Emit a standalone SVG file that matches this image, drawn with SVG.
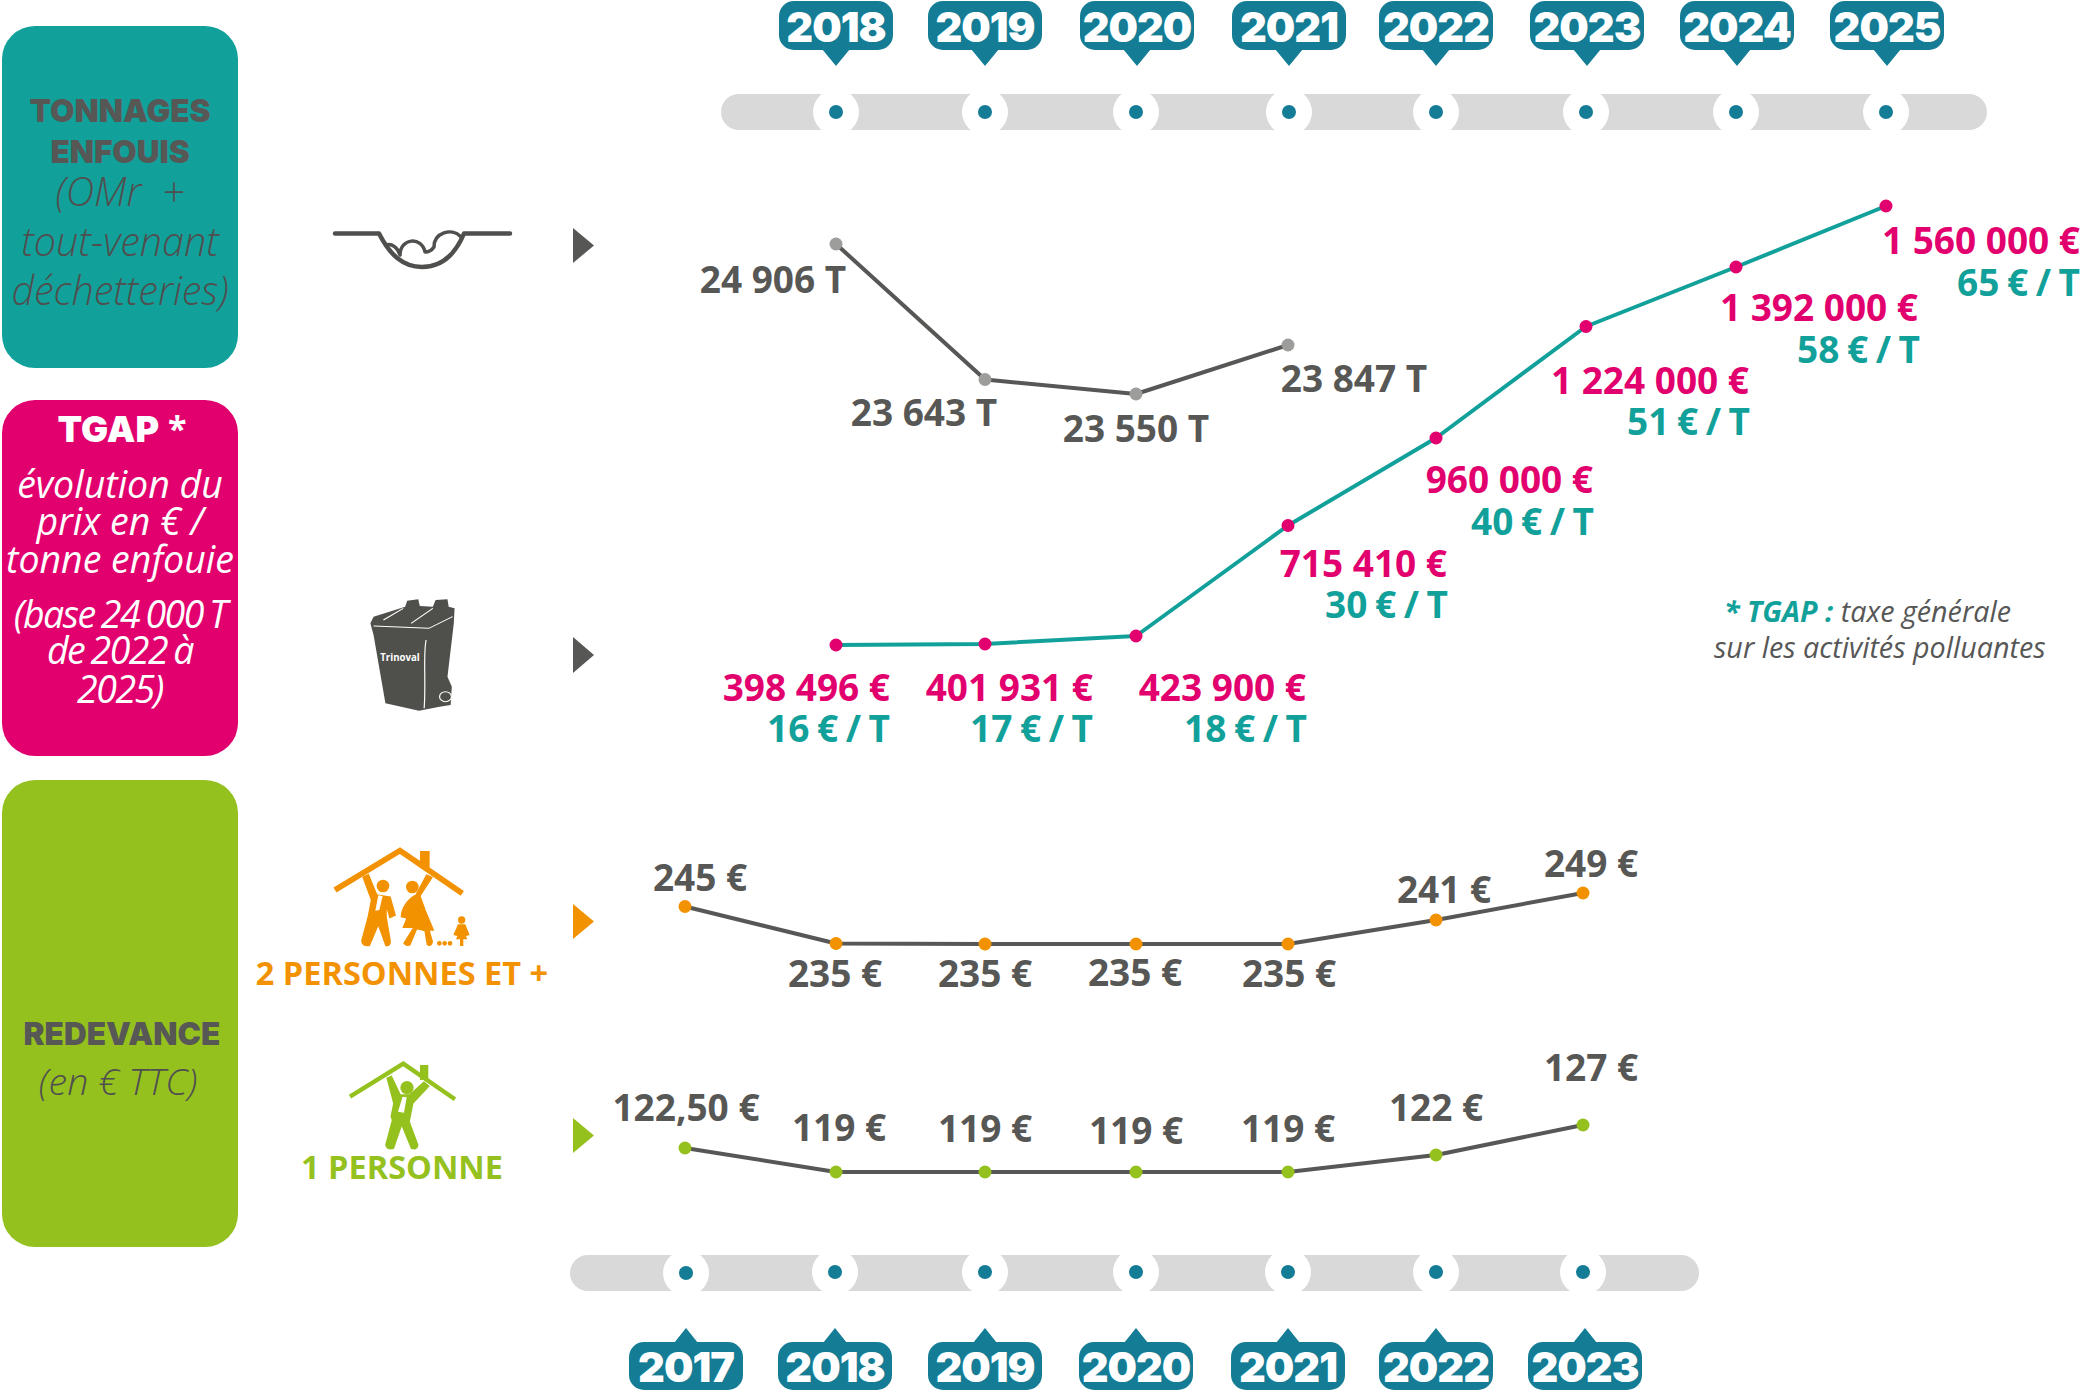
<svg xmlns="http://www.w3.org/2000/svg" width="2081" height="1395" viewBox="0 0 2081 1395">
<style>
text{font-family:"Open Sans","Liberation Sans",sans-serif}
.v{font-size:37px;font-weight:700;fill:#575756;text-anchor:middle}
.p{font-size:37px;font-weight:700;fill:#e2006e;text-anchor:end}
.t{font-size:37px;font-weight:700;fill:#12a19a;text-anchor:end;word-spacing:-2px}
.y{font-family:Inter,"Liberation Sans",sans-serif;font-size:41.500px;font-weight:900;fill:#fff;text-anchor:middle;letter-spacing:-1px}
.h{font-family:Inter,"Liberation Sans",sans-serif;font-size:31.500px;font-weight:900;text-anchor:middle}
.i{font-size:37.500px;font-style:italic;text-anchor:middle;white-space:pre}
.g{font-size:39.500px;font-weight:300;fill:#4f4f4f}
.n{letter-spacing:-1.500px;word-spacing:-2px}
.bar{fill:#d9d9d9}.hole{fill:#fff}.dot{fill:#147d95}.bub{fill:#147d95}
.ln{fill:none;stroke-width:4;stroke-linejoin:round}
.lab{font-size:32.500px;font-weight:700;text-anchor:middle}
</style>
<defs>
<g id="bu"><rect x="-57" y="-65" width="114" height="49" rx="15" class="bub"/><path d="M-14,-17H14L0,0Z" class="bub"/></g>
<g id="bd"><rect x="-57" y="14" width="114" height="48" rx="15" class="bub"/><path d="M-12,15H12L0,0Z" class="bub"/></g>
</defs>

<g id="timeline-top">
<rect class="bar" x="721" y="94" width="1266" height="36" rx="18"/>
<g id="tick-top">
<circle class="hole" cx="836" cy="112" r="23"/><circle class="dot" cx="836" cy="112" r="7"/>
<circle class="hole" cx="985" cy="112" r="23"/><circle class="dot" cx="985" cy="112" r="7"/>
<circle class="hole" cx="1136" cy="112" r="23"/><circle class="dot" cx="1136" cy="112" r="7"/>
<circle class="hole" cx="1289" cy="112" r="23"/><circle class="dot" cx="1289" cy="112" r="7"/>
<circle class="hole" cx="1436" cy="112" r="23"/><circle class="dot" cx="1436" cy="112" r="7"/>
<circle class="hole" cx="1586" cy="112" r="23"/><circle class="dot" cx="1586" cy="112" r="7"/>
<circle class="hole" cx="1736" cy="112" r="23"/><circle class="dot" cx="1736" cy="112" r="7"/>
<circle class="hole" cx="1886" cy="112" r="23"/><circle class="dot" cx="1886" cy="112" r="7"/>
</g>
<g id="y18t"><use href="#bu" x="836" y="66"/><text class="y" x="836" y="42">2018</text></g>
<g id="y19t"><use href="#bu" x="985" y="66"/><text class="y" x="985" y="42">2019</text></g>
<g id="y20t"><use href="#bu" x="1137" y="66"/><text class="y" x="1137" y="42">2020</text></g>
<g id="y21t"><use href="#bu" x="1289" y="66"/><text class="y" x="1289" y="42">2021</text></g>
<g id="y22t"><use href="#bu" x="1436" y="66"/><text class="y" x="1436" y="42">2022</text></g>
<g id="y23t"><use href="#bu" x="1587" y="66"/><text class="y" x="1587" y="42">2023</text></g>
<g id="y24t"><use href="#bu" x="1737" y="66"/><text class="y" x="1737" y="42">2024</text></g>
<g id="y25t"><use href="#bu" x="1887" y="66"/><text class="y" x="1887" y="42">2025</text></g>
</g>

<g id="timeline-bottom">
<rect class="bar" x="570" y="1255" width="1129" height="36" rx="18"/>
<circle class="hole" cx="686" cy="1273" r="23"/><circle class="dot" cx="686" cy="1273" r="7"/>
<circle class="hole" cx="835" cy="1272" r="23"/><circle class="dot" cx="835" cy="1272" r="7"/>
<circle class="hole" cx="985" cy="1272" r="23"/><circle class="dot" cx="985" cy="1272" r="7"/>
<circle class="hole" cx="1136" cy="1272" r="23"/><circle class="dot" cx="1136" cy="1272" r="7"/>
<circle class="hole" cx="1288" cy="1272" r="23"/><circle class="dot" cx="1288" cy="1272" r="7"/>
<circle class="hole" cx="1436" cy="1272" r="23"/><circle class="dot" cx="1436" cy="1272" r="7"/>
<circle class="hole" cx="1583" cy="1272" r="23"/><circle class="dot" cx="1583" cy="1272" r="7"/>
<g id="y17b"><use href="#bd" x="686" y="1328"/><text class="y" x="686" y="1382">2017</text></g>
<g id="y18b"><use href="#bd" x="835" y="1328"/><text class="y" x="835" y="1382">2018</text></g>
<g id="y19b"><use href="#bd" x="985" y="1328"/><text class="y" x="985" y="1382">2019</text></g>
<g id="y20b"><use href="#bd" x="1136" y="1328"/><text class="y" x="1136" y="1382">2020</text></g>
<g id="y21b"><use href="#bd" x="1288" y="1328"/><text class="y" x="1288" y="1382">2021</text></g>
<g id="y22b"><use href="#bd" x="1436" y="1328"/><text class="y" x="1436" y="1382">2022</text></g>
<g id="y23b"><use href="#bd" x="1585" y="1328"/><text class="y" x="1585" y="1382">2023</text></g>
</g>

<g id="box-tonnages">
<rect x="2" y="26" width="236" height="342" rx="33" fill="#12a19a"/>
<text class="h" x="120" y="122" fill="#575756">TONNAGES</text>
<text class="h" x="120" y="163" fill="#575756">ENFOUIS</text>
<text x="120" y="206" class="i g">(OMr  +</text><text x="120" y="256" class="i g">tout-venant</text><text x="120" y="305" class="i g">déchetteries)</text>
</g>
<g id="box-tgap">
<rect x="2" y="400" width="236" height="356" rx="33" fill="#e2006e"/>
<text x="122" y="442" class="h" fill="#fff" style="font-size:36px">TGAP<tspan font-family="Open Sans" font-size="34" font-weight="700" dy="-1"> *</tspan></text>
<text class="i" x="120" y="498" fill="#fff">évolution du</text>
<text class="i" x="120" y="535" fill="#fff">prix en € /</text>
<text class="i" x="120" y="573" fill="#fff">tonne enfouie</text>
<text class="i n" x="120" y="628" fill="#fff">(base 24 000 T</text>
<text class="i n" x="120" y="664" fill="#fff">de 2022 à</text>
<text class="i n" x="120" y="703" fill="#fff">2025)</text>
</g>
<g id="box-redevance">
<rect x="2" y="780" width="236" height="467" rx="33" fill="#95c11f"/>
<text class="h" x="122" y="1045" fill="#575756">REDEVANCE</text>
<text class="i g" x="118" y="1095" style="font-size:37.500px">(en € TTC)</text>
</g>

<g id="icon-landfill" fill="none" stroke="#4f4f4d" stroke-width="4.500" stroke-linecap="round" stroke-linejoin="round">
<path d="M335,233.500H379C390,255 403,267 422,267C441,267 455,255 464,233.500H510"/>
<path d="M386,245C392,243 398,248 400,255M400,255C400,238 422,236 425,252C428,252 432,250 434,247C434,232 452,228 460,236" stroke-width="3.500"/>
</g>
<g id="icon-bin" transform="translate(0,390) scale(.3953,.3333)">
<path d="M937,700L945,680L1025,650L1030,632L1058,628L1062,648L1095,650L1102,630L1132,628L1135,650L1150,655L1148,700L1132,860L1143,890L1140,945L1112,950L1060,962L975,940L945,735Z" fill="#4f504c"/>
<path d="M945,708L1085,715L1145,680M1078,750C1070,790 1078,880 1073,955M970,690L1020,655M1040,700L1095,655" fill="none" stroke="#fff" stroke-width="3"/>
<circle cx="1127" cy="920" r="15" fill="#4f504c" stroke="#fff" stroke-width="3"/>
<text x="1012" y="812" font-size="30" font-weight="700" fill="#fff" text-anchor="middle" textLength="100" lengthAdjust="spacingAndGlyphs">Trinoval</text>
</g>
<g id="icon-family" transform="translate(230,820) scale(.3333)" fill="#f39200" stroke="none">
<path d="M315,210L510,92L697,220" fill="none" stroke="#f39200" stroke-width="17"/>
<rect x="570" y="93" width="29" height="50"/>
<circle cx="459" cy="198" r="19"/>
<circle cx="547" cy="201" r="19"/>
<path d="M400,172L415,165L440,225L480,232L495,285L480,292L468,250V292L480,362Q482,378 468,376L445,312L418,376Q395,378 396,362L415,292L425,240Z" stroke="#f39200" stroke-width="5"/>
<path d="M445,226L436,272L448,270L458,228Z" fill="#fff"/>
<path d="M606,172L590,165L558,225C535,235 515,265 514,290L528,293L545,260L520,322H552L522,370Q530,380 540,374L560,326L585,332L592,374Q605,380 607,365L597,330H610L585,270L570,228Z" stroke="#f39200" stroke-width="4"/>
<path d="M628,370h.1M644,370h.1M660,370h.1" stroke="#f39200" stroke-width="14" stroke-linecap="round"/>
<circle cx="695" cy="300" r="11"/>
<path d="M684,313H706L719,345L708,348L712,358H700V378H690V358H678L682,348L670,345Z"/>
</g>
<g id="icon-single" transform="translate(230,820) scale(.3333)" fill="#95c11f">
<path d="M360,830L520,731L675,838" fill="none" stroke="#95c11f" stroke-width="13"/>
<rect x="570" y="735" width="25" height="45"/>
<circle cx="531" cy="803" r="20"/>
<path d="M472,775L484,770L510,825H540L582,787L596,798L548,850L537,905L563,975Q560,990 545,985L515,912L490,985Q470,990 468,975L488,900L484,890L492,850Z" stroke="#95c11f" stroke-width="5"/>
<path d="M518,830L504,875L522,878L530,832Z" fill="#fff"/>
</g>
<g id="label-2p"><text class="lab" x="402" y="985" fill="#f39200">2 PERSONNES ET +</text></g>
<g id="label-1p"><text class="lab" x="402" y="1179" fill="#95c11f">1 PERSONNE</text></g>
<g id="arrows">
<path d="M573,228L594,245.500L573,263Z" fill="#575756"/>
<path d="M573,637L594,655L573,673Z" fill="#575756"/>
<path d="M573,904L594,921.500L573,939Z" fill="#f39200"/>
<path d="M573,1118L594,1135.500L573,1153Z" fill="#95c11f"/>
</g>

<g id="connectors">
<polyline class="ln" stroke="#575756" points="836,244 985,379.500 1136,394 1288,345"/>
<polyline class="ln" stroke="#12a19a" points="836,645 985,644 1136,636 1288,525.500 1436,438 1586,326.500 1736,267 1886,206"/>
<polyline class="ln" stroke="#575756" points="685,906.500 836,943.500 985,944 1136,944 1288,944 1436,920 1583,893"/>
<polyline class="ln" stroke="#575756" points="685,1148 836,1172 985,1172 1136,1172 1288,1172 1436,1155 1583,1125"/>
</g>
<g id="points-tonnes" fill="#9d9d9c"><circle cx="836" cy="244" r="6.500"/><circle cx="985" cy="379.500" r="6.500"/><circle cx="1136" cy="394" r="6.500"/><circle cx="1288" cy="345" r="6.500"/></g>
<g id="points-tgap" fill="#e2006e"><circle cx="836" cy="645" r="6.500"/><circle cx="985" cy="644" r="6.500"/><circle cx="1136" cy="636" r="6.500"/><circle cx="1288" cy="525.500" r="6.500"/><circle cx="1436" cy="438" r="6.500"/><circle cx="1586" cy="326.500" r="6.500"/><circle cx="1736" cy="267" r="6.500"/><circle cx="1886" cy="206" r="6.500"/></g>
<g id="points-2p" fill="#f39200"><circle cx="685" cy="906.500" r="6.500"/><circle cx="836" cy="943.500" r="6.500"/><circle cx="985" cy="944" r="6.500"/><circle cx="1136" cy="944" r="6.500"/><circle cx="1288" cy="944" r="6.500"/><circle cx="1436" cy="920" r="6.500"/><circle cx="1583" cy="893" r="6.500"/></g>
<g id="points-1p" fill="#95c11f"><circle cx="685" cy="1148" r="6.500"/><circle cx="836" cy="1172" r="6.500"/><circle cx="985" cy="1172" r="6.500"/><circle cx="1136" cy="1172" r="6.500"/><circle cx="1288" cy="1172" r="6.500"/><circle cx="1436" cy="1155" r="6.500"/><circle cx="1583" cy="1125" r="6.500"/></g>

<g id="labels-tonnes">
<text class="v" x="773" y="293">24 906 T</text><text class="v" x="924" y="426">23 643 T</text><text class="v" x="1136" y="442">23 550 T</text><text class="v" x="1354" y="392">23 847 T</text>
</g>
<g id="labels-tgap">
<text class="p" x="890" y="701">398 496 €</text><text class="t" x="890" y="742">16 € / T</text>
<text class="p" x="1093" y="701">401 931 €</text><text class="t" x="1093" y="742">17 € / T</text>
<text class="p" x="1306" y="701">423 900 €</text><text class="t" x="1307" y="742">18 € / T</text>
<text class="p" x="1447" y="577">715 410 €</text><text class="t" x="1448" y="618">30 € / T</text>
<text class="p" x="1593" y="493">960 000 €</text><text class="t" x="1594" y="535">40 € / T</text>
<text class="p" x="1749" y="394">1 224 000 €</text><text class="t" x="1750" y="435">51 € / T</text>
<text class="p" x="1918" y="321">1 392 000 €</text><text class="t" x="1920" y="363">58 € / T</text>
<text class="p" x="2080" y="254">1 560 000 €</text><text class="t" x="2080" y="296">65 € / T</text>
</g>
<g id="labels-2p">
<text class="v" x="700" y="891">245 €</text><text class="v" x="835" y="987">235 €</text><text class="v" x="985" y="987">235 €</text><text class="v" x="1135" y="986">235 €</text><text class="v" x="1289" y="987">235 €</text><text class="v" x="1444" y="903">241 €</text><text class="v" x="1591" y="877">249 €</text>
</g>
<g id="labels-1p">
<text class="v" x="686" y="1121">122,50 €</text><text class="v" x="839" y="1141">119 €</text><text class="v" x="985" y="1142">119 €</text><text class="v" x="1136" y="1144">119 €</text><text class="v" x="1288" y="1142">119 €</text><text class="v" x="1436" y="1121">122 €</text><text class="v" x="1591" y="1081">127 €</text>
</g>
<g id="note" font-size="28.700" font-style="italic" fill="#575756">
<text x="1724" y="622"><tspan fill="#12a19a" font-weight="700">* TGAP : </tspan>taxe générale</text>
<text x="1714" y="658">sur les activités polluantes</text>
</g>
</svg>
